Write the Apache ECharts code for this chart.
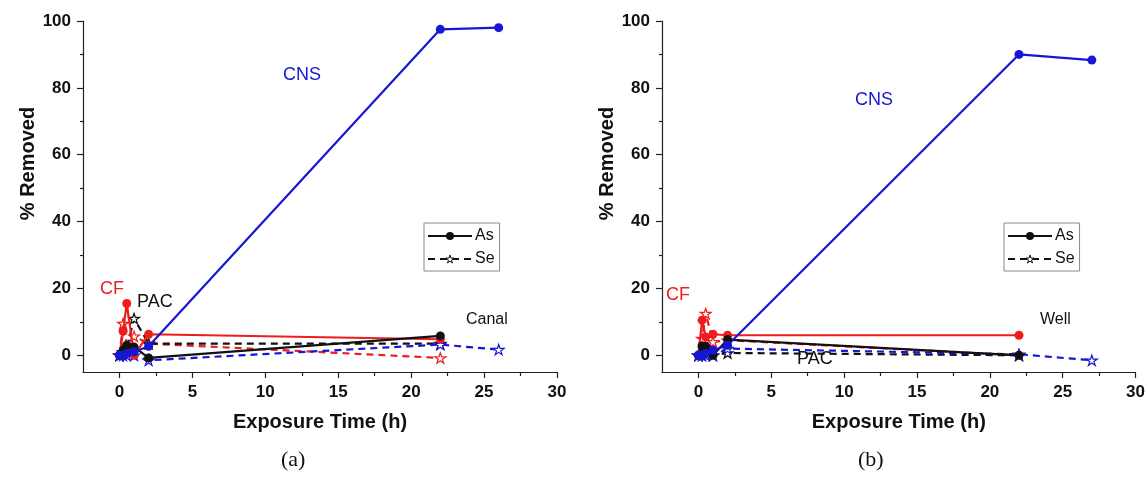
<!DOCTYPE html>
<html>
<head>
<meta charset="utf-8">
<script src="https://cdn.jsdelivr.net/npm/echarts@6/dist/echarts.min.js"></script>
<style>
  html, body { margin: 0; padding: 0; background: #fff; }
  #chart { width: 1148px; height: 484px; }
</style>
</head>
<body>
<div id="chart"></div>
<script>
// sampling times (h)
const timesShort = [0, 0.25, 0.5, 1, 2, 22];
const canalCnsTimes = [0, 0.25, 0.5, 1, 2, 22, 26];
const wellCnsTimes = [0, 0.25, 0.5, 1, 2, 22, 27];

// (a) Canal, % removed
const canalCfAs = [0, 7.2, 15.5, 0, 6.3, 4.8];
const canalCfSe = [0, 9.5, 3, 5.7, 3.5, -0.8];
const canalPacAs = [0, 1.5, 3, 2.5, -0.8, 5.8];
const canalPacSe = [0, 1, 2, 11, 3.5, 3.5];
const canalCnsAs = [0, 0, 0.5, 1, 2.7, 97.5, 98];
const canalCnsSe = [0, 0, 0, 0, -1.5, 3.2, 1.7];

// (b) Well, % removed
const wellCfAs = [0, 10.5, 5.5, 6.3, 6, 6];
const wellCfSe = [0, 5, 12.5, 4, 4.5, 0];
const wellPacAs = [0, 2.7, 2.7, 0, 4.7, 0];
const wellPacSe = [0, 0, 0.5, 0, 0.7, 0];
const wellCnsAs = [0, 0, 0.5, 1.5, 3, 90, 88.3];
const wellCnsSe = [0, 0, 0, 0, 2, 0.3, -1.5];

// ticks
const xMajor = [0, 5, 10, 15, 20, 25, 30];
const xMinor = [2.5, 7.5, 12.5, 17.5, 22.5, 27.5];
const yMajor = [0, 20, 40, 60, 80, 100];
const yMinor = [10, 30, 50, 70, 90];

const RED = '#ee1c1c';
const BLUE = '#1616d6';
const BLACK = '#111111';
const FONT = 'Liberation Sans, Arial, sans-serif';
const STAR = 'path://M50,0 L61.8,35.1 L98.9,35.1 L69,57.3 L80.3,91.9 L50,70.5 L19.7,91.9 L31,57.3 L1.1,35.1 L38.2,35.1 Z';

function pairs(t, v) {
  return t.map((x, i) => [x, v[i]]);
}

const grids = [
  { left: 83, top: 21, width: 474, height: 351 },
  { left: 662, top: 21, width: 475, height: 351 }
];

const xAxes = [];
const yAxes = [];
grids.forEach((g, gi) => {
  xAxes.push({
    gridIndex: gi, type: 'value', min: -2.5, max: 30, position: 'bottom',
    axisLine: { show: true, onZero: false, lineStyle: { color: '#222', width: 1.2 } },
    axisTick: { show: true, customValues: xMajor, length: 6, lineStyle: { color: '#222', width: 1.2 } },
    axisLabel: { customValues: xMajor, fontFamily: FONT, fontWeight: 'bold', fontSize: 17, color: '#111', margin: 12 },
    splitLine: { show: false },
    name: 'Exposure Time (h)', nameLocation: 'middle', nameGap: 40,
    nameTextStyle: { fontFamily: FONT, fontWeight: 'bold', fontSize: 20, color: '#111' }
  });
  xAxes.push({
    gridIndex: gi, type: 'value', min: -2.5, max: 30, position: 'bottom',
    axisLine: { show: false, onZero: false },
    axisTick: { show: true, customValues: xMinor, length: 4, lineStyle: { color: '#222', width: 1.2 } },
    axisLabel: { show: false },
    splitLine: { show: false }
  });
  yAxes.push({
    gridIndex: gi, type: 'value', min: -5, max: 100, position: 'left',
    axisLine: { show: true, onZero: false, lineStyle: { color: '#222', width: 1.2 } },
    axisTick: { show: true, customValues: yMajor, length: 6, lineStyle: { color: '#222', width: 1.2 } },
    axisLabel: { customValues: yMajor, fontFamily: FONT, fontWeight: 'bold', fontSize: 17, color: '#111', margin: 12 },
    splitLine: { show: false },
    name: '% Removed', nameLocation: 'middle', nameGap: 40,
    nameTextStyle: { fontFamily: FONT, fontWeight: 'bold', fontSize: 20, color: '#111', padding: [0, 0, 0, 66] }
  });
  yAxes.push({
    gridIndex: gi, type: 'value', min: -5, max: 100, position: 'left',
    axisLine: { show: false, onZero: false },
    axisTick: { show: true, customValues: yMinor, length: 3, lineStyle: { color: '#222', width: 1.2 } },
    axisLabel: { show: false },
    splitLine: { show: false }
  });
});

function asSeries(name, gi, data, color) {
  return {
    name: name, type: 'line', xAxisIndex: gi * 2, yAxisIndex: gi * 2, data: data,
    symbol: 'circle', symbolSize: 9,
    lineStyle: { color: color, width: 2.2 },
    itemStyle: { color: color },
    z: 3
  };
}

function seSeries(name, gi, data, color) {
  return {
    name: name, type: 'line', xAxisIndex: gi * 2, yAxisIndex: gi * 2, data: data,
    symbol: STAR, symbolSize: 11, symbolKeepAspect: true,
    lineStyle: { color: color, width: 2.2, type: [7, 5] },
    itemStyle: { color: '#fff', borderColor: color, borderWidth: 1.2 },
    z: 2
  };
}

const series = [
  // legend keys
  { name: 'As', type: 'line', xAxisIndex: 0, yAxisIndex: 0, data: [], symbol: 'circle', symbolSize: 9,
    lineStyle: { color: BLACK, width: 2 }, itemStyle: { color: BLACK } },
  { name: 'Se', type: 'line', xAxisIndex: 0, yAxisIndex: 0, data: [], symbol: STAR, symbolSize: 11,
    symbolKeepAspect: true,
    lineStyle: { color: BLACK, width: 2, type: [7, 5] }, itemStyle: { color: '#fff', borderColor: BLACK, borderWidth: 1.2 } },

  seSeries('canal CF Se', 0, pairs(timesShort, canalCfSe), RED),
  seSeries('canal PAC Se', 0, pairs(timesShort, canalPacSe), BLACK),
  seSeries('canal CNS Se', 0, pairs(canalCnsTimes, canalCnsSe), BLUE),
  asSeries('canal CF As', 0, pairs(timesShort, canalCfAs), RED),
  asSeries('canal PAC As', 0, pairs(timesShort, canalPacAs), BLACK),
  asSeries('canal CNS As', 0, pairs(canalCnsTimes, canalCnsAs), BLUE),

  seSeries('well CF Se', 1, pairs(timesShort, wellCfSe), RED),
  seSeries('well PAC Se', 1, pairs(timesShort, wellPacSe), BLACK),
  seSeries('well CNS Se', 1, pairs(wellCnsTimes, wellCnsSe), BLUE),
  asSeries('well CF As', 1, pairs(timesShort, wellCfAs), RED),
  asSeries('well PAC As', 1, pairs(timesShort, wellPacAs), BLACK),
  asSeries('well CNS As', 1, pairs(wellCnsTimes, wellCnsAs), BLUE)
];

function legendAt(left) {
  return {
    data: [
      { name: 'As' },
      { name: 'Se', itemStyle: { color: '#fff', borderColor: BLACK, borderWidth: 1 } }
    ],
    orient: 'vertical', left: left, top: 223,
    itemWidth: 44, itemHeight: 10, itemGap: 7,
    padding: [5, 5, 4, 3],
    borderColor: '#888', borderWidth: 1,
    selectedMode: false,
    textStyle: { fontFamily: FONT, fontSize: 16, color: '#111', padding: [0, 0, 0, -2] }
  };
}

function label(text, x, y, color, size, family) {
  return {
    type: 'text', left: x, top: y,
    style: { text: text, fill: color, fontSize: size || 16, fontFamily: family || FONT }
  };
}

const chart = echarts.init(document.getElementById('chart'), null, { renderer: 'canvas' });
chart.setOption({
  backgroundColor: '#fff',
  animation: false,
  grid: grids,
  xAxis: xAxes,
  yAxis: yAxes,
  legend: [legendAt(424), legendAt(1004)],
  series: series,
  graphic: [
    label('CNS', 283, 66, BLUE, 18),
    label('CF', 100, 280, RED, 18),
    label('PAC', 137, 293, '#111', 18),
    label('Canal', 466, 312, '#111'),
    label('CNS', 855, 91, BLUE, 18),
    label('CF', 666, 286, RED, 18),
    label('PAC', 797, 350, '#111', 18),
    label('Well', 1040, 312, '#111'),
    label('(a)', 281, 449, '#111', 22, 'Liberation Serif, Times New Roman, serif'),
    label('(b)', 858, 449, '#111', 22, 'Liberation Serif, Times New Roman, serif')
  ]
});
</script>
</body>
</html>
